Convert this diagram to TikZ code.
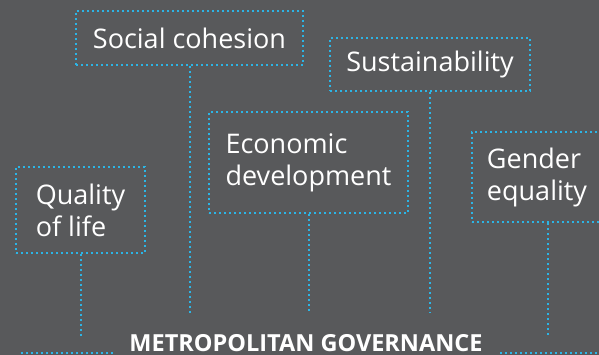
\documentclass[tikz,border=0pt]{standalone}
\usepackage{fontspec}
\setmainfont{Open Sans}
\usetikzlibrary{positioning}
\definecolor{slate}{HTML}{58595B}
\definecolor{skyline}{HTML}{2CB5E6}
\tikzset{
    x=1pt, y=1pt,
    link/.style={draw=skyline, line width=2pt, dash pattern=on 2pt off 3pt}, % dotted connector
    goal/.style={link, text=white, align=left, inner sep=0pt,
        font=\fontsize{27}{32}\selectfont}, % dotted box round each goal
    title/.style={text=white, font=\bfseries\fontsize{23.5}{26}\selectfont, anchor=base},
}

\begin{document}
\begin{tikzpicture}
    \fill[slate] (0,0) rectangle (599,355);
    \useasboundingbox (0,0) rectangle (599,355);

    \node[goal, minimum width=227pt, minimum height=54pt] (social) at (189.5,317) {Social cohesion};
    \node[goal, minimum width=200pt, minimum height=53pt] (sustain) at (430,290.5) {Sustainability};
    \node[goal, minimum width=199pt, minimum height=101pt] (econ) at (308.5,192.5) {Economic\\development};
    \node[goal, minimum width=130pt, minimum height=90pt] (gender) at (537,178) {Gender\\equality};
    \node[goal, minimum width=129pt, minimum height=86pt] (life) at (80.5,145) {Quality\\of life};

    \node[title] (gov) at (306,3.5) {METROPOLITAN GOVERNANCE};

    % ends of the dotted legs
    \coordinate (upper) at (0,42);
    \coordinate (lower) at (0,18);
    \coordinate (leftA) at (21,2);
    \coordinate (leftB) at (113,2);
    \coordinate (rightA) at (500,2);
    \coordinate (rightB) at (603,2);

    \draw[link] (social.south) -- (social.south |- upper);
    \draw[link] (sustain.south) -- (sustain.south |- upper);
    \draw[link] (econ.south) -- (econ.south |- upper);
    \draw[link] (life.south) -- (life.south |- lower);
    \draw[link] ([xshift=11pt]gender.south) -- ([xshift=11pt]gender.south |- lower);
    \draw[link] (leftA) -- (leftB);
    \draw[link] (rightA) -- (rightB);
\end{tikzpicture}
\end{document}
